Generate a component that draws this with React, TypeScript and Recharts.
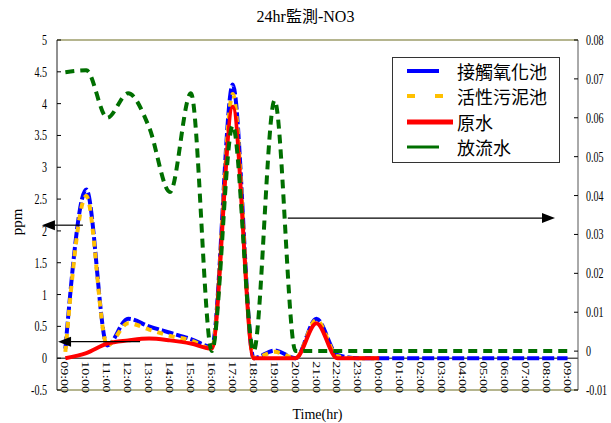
import React from "react";
import { LineChart, Line, XAxis, YAxis, ReferenceLine, Legend } from "recharts";

// hourly sampling, 09:00 -> 09:00 next day
const timeLabels = [
  "09:00", "10:00", "11:00", "12:00", "13:00", "14:00", "15:00", "16:00", "17:00",
  "18:00", "19:00", "20:00", "21:00", "22:00", "23:00", "00:00", "01:00", "02:00",
  "03:00", "04:00", "05:00", "06:00", "07:00", "08:00", "09:00",
];

// ppm (left axis); null = no sample
const contactTank = [0.15, 2.65, 0.2, 0.62, 0.5, 0.4, 0.3, 0.18, 4.3, 0, 0.12, 0, 0.62, 0.05, 0, 0, 0, 0, 0, 0, 0, 0, 0, 0, 0];
const sludgeTank = [0.1, 2.55, 0.2, 0.55, 0.45, 0.35, 0.28, 0.15, 4.15, 0, 0.1, 0, 0.6, 0.03, 0, 0, null, null, null, null, null, null, null, null, null];
const rawWater = [0, 0.08, 0.23, 0.28, 0.31, 0.28, 0.23, 0.15, 3.95, 0, 0, 0, 0.55, 0, 0, 0, null, null, null, null, null, null, null, null, null];
// right axis
const effluent = [0.0717, 0.0722, 0.06, 0.0663, 0.0576, 0.0409, 0.0663, 0, 0.058, 0, 0.0645, 0, 0, 0, 0, 0, 0, 0, 0, 0, 0, 0, 0, 0, 0];

const leftTicks = [-0.5, 0, 0.5, 1, 1.5, 2, 2.5, 3, 3.5, 4, 4.5, 5];
const rightTicks = [-0.01, 0, 0.01, 0.02, 0.03, 0.04, 0.05, 0.06, 0.07, 0.08];

// annotation arrows, [x(hours), y] -> tip
const arrows = [
  { axis: "left", from: [0.84, 2.09], to: [-1.12, 2.09] },
  { axis: "left", from: [3.57, 0.26], to: [-0.35, 0.26] },
  { axis: "right", from: [10.63, 0.0342], to: [23.4, 0.0342] },
];

const data = timeLabels.map((t, i) => ({
  h: i,
  time: t,
  contact: contactTank[i],
  sludge: sludgeTank[i],
  raw: rawWater[i],
  effluent: effluent[i],
}));

const hourTicks = timeLabels.map((_, i) => i);
const midTicks = timeLabels.slice(1).map((_, i) => i + 0.5);

const SERIF = '"Liberation Serif", "DejaVu Serif", serif';
const CJK = '"Noto Sans CJK TC", "Noto Sans CJK SC", sans-serif';
const OLIVE = "#9c9c6a";

const PLOT_TOP = 40;
const PLOT_H = 350;
const ZERO_Y = PLOT_TOP + (PLOT_H * 5) / 5.5;

const XTick = ({ x, payload }: any) => {
  const y0 = ZERO_Y + 3;
  return (
    <g transform={`translate(${x} ${y0}) rotate(90) scale(1 0.8)`}>
      <text x={0} y={0} dy="0.35em" textAnchor="start" fontSize={14} fontFamily={SERIF} fill="#000">
        {timeLabels[payload.value]}
      </text>
    </g>
  );
};

const MidTick = ({ x }: any) => <line x1={x} x2={x} y1={ZERO_Y - 4} y2={ZERO_Y} stroke="#000" />;

const LeftTick = ({ x, y, payload }: any) => (
  <g>
    <line x1={x + 10} x2={x + 14} y1={y} y2={y} stroke="#000" />
    <g transform={`translate(${x} ${y}) scale(0.72 1)`}>
      <text x={0} y={0} dy={5} textAnchor="end" fontSize={14} fontFamily={SERIF} fill="#000">
        {String(payload.value)}
      </text>
    </g>
  </g>
);

const RightTick = ({ x, y, payload }: any) => (
  <g>
    <line x1={x - 12} x2={x - 8} y1={y} y2={y} stroke="#000" />
    <g transform={`translate(${x} ${y}) scale(0.72 1)`}>
      <text x={0} y={0} dy={5} textAnchor="start" fontSize={14} fontFamily={SERIF} fill="#000">
        {payload.value === 0 ? "0" : payload.value.toFixed(2)}
      </text>
    </g>
  </g>
);

const ArrowShape = (props: any) => {
  const { x1, y1, x2, y2 } = props;
  const a = Math.atan2(y2 - y1, x2 - x1);
  const L = 13;
  const W = 5;
  const bx = x2 - L * Math.cos(a);
  const by = y2 - L * Math.sin(a);
  const px = -Math.sin(a) * W;
  const py = Math.cos(a) * W;
  return (
    <g>
      <line x1={x1} y1={y1} x2={bx} y2={by} stroke="#000" strokeWidth={1.2} />
      <polygon points={`${x2},${y2} ${bx + px},${by + py} ${bx - px},${by - py}`} fill="#000" />
    </g>
  );
};

const seriesOrder = ["contact", "sludge", "raw", "effluent"];
const samples: Record<string, { color: string; dash?: string; len: number; w: number }> = {
  contact: { color: "#0000ff", len: 32, w: 4 },
  sludge: { color: "#ffc000", dash: "8 20", len: 36, w: 4 },
  raw: { color: "#ff0000", len: 46, w: 5 },
  effluent: { color: "#006f00", len: 32, w: 3 },
};

const LegendBox = ({ payload }: any) => {
  const items = [...(payload || [])].sort(
    (a: any, b: any) => seriesOrder.indexOf(a.dataKey) - seriesOrder.indexOf(b.dataKey)
  );
  return (
    <div
      style={{
        width: 168,
        height: 106,
        boxSizing: "border-box",
        border: "1px solid #333",
        background: "#fff",
      }}
    >
      {items.map((entry: any) => {
        const s = samples[entry.dataKey];
        return (
          <div key={entry.dataKey} style={{ height: 25.5, display: "flex", alignItems: "center" }}>
            <svg width={64} height={10} style={{ flex: "none" }}>
              <line x1={14} x2={14 + s.len} y1={5} y2={5} stroke={s.color} strokeWidth={s.w} strokeDasharray={s.dash} />
            </svg>
            <span style={{ fontFamily: CJK, fontSize: 18, lineHeight: 1, color: "#000" }}>{entry.value}</span>
          </div>
        );
      })}
    </div>
  );
};

export default function App() {
  return (
    <div style={{ position: "absolute", left: 0, top: 0, width: 611, height: 423, background: "#fff" }}>
      <div
        style={{
          position: "absolute",
          top: 8,
          left: 0,
          width: 611,
          textAlign: "center",
          fontFamily: `"Liberation Serif", ${CJK}`,
          fontSize: 16,
          lineHeight: "18px",
          color: "#000",
        }}
      >
        24hr監測-NO3
      </div>
      <LineChart width={611} height={423} data={data} margin={{ top: PLOT_TOP, right: 0, bottom: 0, left: 0 }}>
        <XAxis
          dataKey="h"
          type="number"
          domain={[-0.4, 24.5]}
          allowDataOverflow
          ticks={hourTicks}
          interval={0}
          height={33}
          tickSize={0}
          tickLine={false}
          axisLine={{ stroke: OLIVE, strokeWidth: 1.5 }}
          tick={<XTick />}
          label={{
            value: "Time(hr)",
            position: "insideBottom",
            offset: 4,
            style: { fontFamily: SERIF, fontSize: 14, fill: "#000" },
          }}
        />
        <XAxis
          xAxisId="mid"
          orientation="top"
          type="number"
          domain={[-0.4, 24.5]}
          allowDataOverflow
          ticks={midTicks}
          interval={0}
          height={0}
          tickSize={0}
          tickLine={false}
          axisLine={false}
          tick={<MidTick />}
        />
        <YAxis
          yAxisId="left"
          width={57}
          domain={[-0.5, 5]}
          allowDataOverflow
          ticks={leftTicks}
          interval={0}
          tickSize={0}
          tickMargin={10}
          tickLine={false}
          axisLine={{ stroke: "#222" }}
          tick={<LeftTick />}
          label={() => (
            <text x={17} y={222} transform="rotate(-90 17 222)" textAnchor="middle" dy={5} fontSize={15} fontFamily={SERIF} fill="#000">
              ppm
            </text>
          )}
        />
        <YAxis
          yAxisId="right"
          orientation="right"
          width={33}
          domain={[-0.01, 0.08]}
          allowDataOverflow
          ticks={rightTicks}
          interval={0}
          tickSize={0}
          tickMargin={8}
          tickLine={false}
          axisLine={{ stroke: "#555" }}
          tick={<RightTick />}
        />
        <ReferenceLine yAxisId="left" y={5} stroke={OLIVE} strokeWidth={1.5} />
        <ReferenceLine yAxisId="left" y={0} stroke="#000" />
        <Line yAxisId="left" dataKey="contact" name="接觸氧化池" type="monotone" stroke="#0000ff" strokeWidth={4} strokeDasharray="12 3" dot={false} isAnimationActive={false} />
        <Line yAxisId="left" dataKey="sludge" name="活性污泥池" type="monotone" stroke="#ffc000" strokeWidth={4} strokeDasharray="6 6" dot={false} isAnimationActive={false} />
        <Line yAxisId="left" dataKey="raw" name="原水" type="monotone" stroke="#ff0000" strokeWidth={4} dot={false} isAnimationActive={false} />
        <Line yAxisId="right" dataKey="effluent" name="放流水" type="monotone" stroke="#006f00" strokeWidth={4} strokeDasharray="9 6" dot={false} isAnimationActive={false} />
        {arrows.map((a, i) => (
          <ReferenceLine
            key={i}
            yAxisId={a.axis}
            ifOverflow="visible"
            segment={[
              { x: a.from[0], y: a.from[1] },
              { x: a.to[0], y: a.to[1] },
            ]}
            shape={ArrowShape}
          />
        ))}
        <Legend
          layout="vertical"
          verticalAlign="middle"
          align="center"
          wrapperStyle={{ top: 57, left: 392, width: 168, height: 106 }}
          content={LegendBox}
        />
      </LineChart>
    </div>
  );
}
